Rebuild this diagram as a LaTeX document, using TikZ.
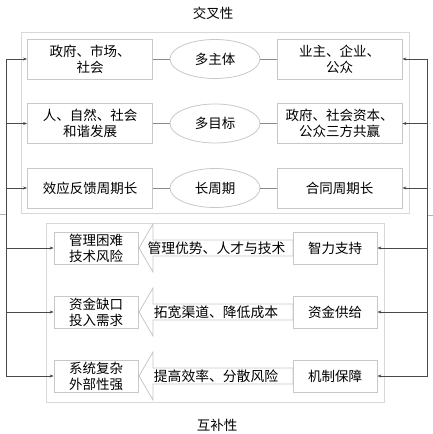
\documentclass[tikz,border=0pt]{standalone}
\usepackage{fontspec}
\setmainfont{Noto Sans CJK SC}
\usetikzlibrary{shapes.geometric,arrows.meta}
\definecolor{bordc}{HTML}{C8C8C8}
\definecolor{outc}{HTML}{D8D8D8}
\definecolor{linkc}{HTML}{8A8A8A}
\definecolor{fbc}{HTML}{4A4A4A}
\begin{document}
\begin{tikzpicture}[x=1pt,y=-1pt,
  every node/.style={font=\fontsize{13.5}{16}\selectfont, text=black},
  bx/.style={draw=bordc, line width=0.8pt, fill=white, inner sep=0pt, align=center},
  topbox/.style={bx, minimum width=125pt, minimum height=40pt},
  botbox/.style={bx, minimum width=84pt, minimum height=32pt},
  ell/.style={ellipse, draw=bordc, line width=0.8pt, fill=white, minimum width=90pt, minimum height=39pt, inner sep=0pt},
  outer/.style={draw=outc, line width=0.8pt},
  link/.style={draw=linkc, line width=0.8pt},
  fbl/.style={draw=fbc, line width=0.8pt},
  fb/.style={draw=fbc, line width=0.8pt, -{Stealth[length=4pt,width=3pt]}},
  barrow/.style={draw=bordc, line width=0.8pt, fill=white, line join=miter},
  midtxt/.style={font=\fontsize{13.8}{16}\selectfont},
  ttl/.style={font=\fontsize{13.5}{16}\selectfont}
]
\useasboundingbox (0,0) rectangle (433,434);
% titles
\node[ttl] (t1) at (213,13) {交叉性};
\node[ttl] (t2) at (217,425) {互补性};
% stubs
\draw[draw=gray!60, line width=0.6pt] (0,214) -- (6,214);
\draw[draw=gray!60, line width=0.6pt] (427,215) -- (433,215);
% outer boxes
\draw[outer] (21,32) rectangle (409,213);
\draw[outer] (46,223) rectangle (384,402);
% top rows
\node[topbox] (l1) at (90,59) {政府、市场、\\社会};
\node[ell] (e1) at (215,59) {多主体};
\node[topbox] (r1) at (339.5,59) {业主、企业、\\公众};
\node[topbox] (l2) at (90,123.5) {人、自然、社会\\和谐发展};
\node[ell] (e2) at (215,123.5) {多目标};
\node[topbox] (r2) at (339.5,123.5) {政府、社会资本、\\公众三方共赢};
\node[topbox] (l3) at (90,188) {效应反馈周期长};
\node[ell] (e3) at (215,188) {长周期};
\node[topbox] (r3) at (339.5,188) {合同周期长};
\foreach \i in {1,2,3}{
  \draw[link] (l\i.east) -- (e\i.west);
  \draw[link] (e\i.east) -- (r\i.west);
}
% bottom rows: block arrows
\foreach \c in {248,312,376}{
  \draw[barrow] (139,\c) -- (153,\c-24) -- (153,\c-8) -- (293,\c-8) -- (293,\c+8) -- (153,\c+8) -- (153,\c+24) -- cycle;
}
\node[botbox] (la) at (96,248) {管理困难\\技术风险};
\node[botbox] (ra) at (335,248) {智力支持};
\node[midtxt] (ma) at (216.5,248) {管理优势、人才与技术};
\node[botbox] (lb) at (96,312) {资金缺口\\投入需求};
\node[botbox] (rb) at (335,312) {资金供给};
\node[midtxt] (mb) at (216,312) {拓宽渠道、降低成本};
\node[botbox] (lc) at (96,376) {系统复杂\\外部性强};
\node[botbox] (rc) at (335,376) {机制保障};
\node[midtxt] (mc) at (216,376) {提高效率、分散风险};
% feedback lines
\coordinate (LT) at (6,59);
\coordinate (LB) at (6,377);
\coordinate (RT) at (427,59);
\coordinate (RB) at (427,377);
\draw[fbl] (LT) -- (LB);
\draw[fbl] (RT) -- (RB);
\foreach \n in {l1,l2,l3,la,lb,lc}{
  \draw[fb] (LT |- \n.west) -- (\n.west);
}
\foreach \n in {r1,r2,r3,ra,rb,rc}{
  \draw[fb] (RT |- \n.east) -- (\n.east);
}
\end{tikzpicture}
\end{document}
